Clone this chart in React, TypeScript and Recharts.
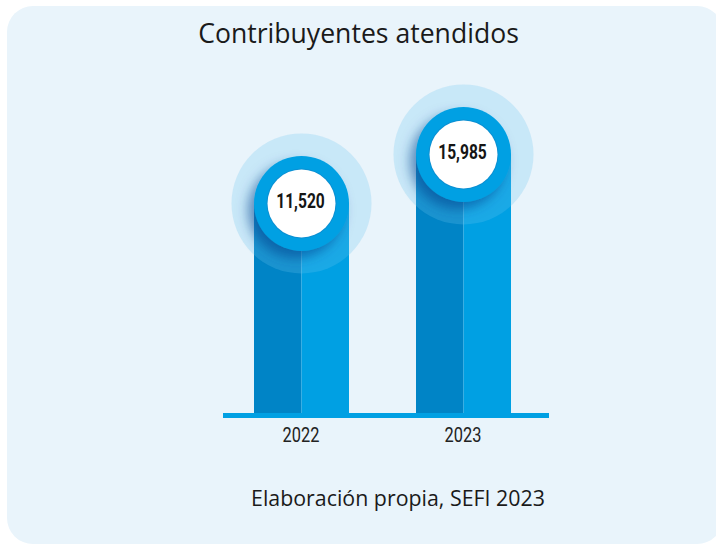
import { BarChart, Bar, XAxis, YAxis } from "recharts";

const years = ["2022", "2023"];
const attended = [11520, 15985];

const data = years.map((year, i) => ({ year, value: attended[i] }));

const BLUE = "#00a0e3";
const DARK = "#0084c6";

function PillarShape(props: any) {
  const { x, y, width, height, background, value, index } = props;
  const cx = x + width / 2;
  const bottom = background ? background.y + background.height : y + height;
  const r = width / 2;
  const id = `pillar-shadow-${index}`;
  return (
    <g>
      <defs>
        <filter id={id} x="-50%" y="-50%" width="200%" height="200%">
          <feDropShadow dx={-6} dy={7} stdDeviation={6} floodColor="#053f8c" floodOpacity={0.55} />
        </filter>
      </defs>
      <rect x={x} y={y} width={width / 2} height={bottom - y} fill={DARK} />
      <rect x={cx} y={y} width={width / 2} height={bottom - y} fill={BLUE} />
      <circle cx={cx} cy={y} r={70} fill="rgba(104,195,240,0.25)" />
      <circle cx={cx} cy={y} r={r} fill={BLUE} filter={`url(#${id})`} />
      <circle cx={cx} cy={y} r={35} fill="#0b8fd2" />
      <circle cx={cx} cy={y} r={34} fill="#ffffff" />
      <text
        transform={`translate(${cx - 1},${y + 5}) scale(0.78,1)`}
        textAnchor="middle"
        fontFamily="Roboto, sans-serif"
        fontWeight={700}
        fontSize={20}
        fill="#151515"
      >
        {Number(value).toLocaleString("en-US")}
      </text>
    </g>
  );
}

function YearTick(props: any) {
  const { x, y, payload } = props;
  return (
    <text
      transform={`translate(${x},${y + 18}) scale(0.82,1)`}
      textAnchor="middle"
      fontFamily="Roboto, sans-serif"
      fontSize={20}
      fill="#222222"
    >
      {payload.value}
    </text>
  );
}

export default function App() {
  return (
    <div style={{ position: "absolute", left: 0, top: 0, width: 716, height: 545, background: "#ffffff", overflow: "hidden" }}>
      <div
        style={{
          position: "absolute",
          left: 7,
          top: 6,
          width: 716,
          height: 538,
          borderRadius: 26,
          background: "#e9f4fb",
        }}
      />
      <svg width={716} height={545} style={{ position: "absolute", left: 0, top: 0 }}>
        <text
          transform="translate(358.5,43) scale(0.95,1)"
          textAnchor="middle"
          fontFamily="'Open Sans', sans-serif"
          fontSize={28}
          fill="#1a1a1a"
        >
          Contribuyentes atendidos
        </text>
        <text
          transform="translate(398,506) scale(0.95,1)"
          textAnchor="middle"
          fontFamily="'Open Sans', sans-serif"
          fontSize={22.5}
          fill="#1a1a1a"
        >
          Elaboración propia, SEFI 2023
        </text>
      </svg>
      <div style={{ position: "absolute", left: 0, top: 0 }}>
        <BarChart
          width={716}
          height={545}
          data={data}
          margin={{ top: 64.3, right: 167, bottom: 99.5, left: 223 }}
        >
          <YAxis hide domain={[-7800, 24200]} />
          <XAxis
            dataKey="year"
            axisLine={{ stroke: BLUE, strokeWidth: 5 }}
            tickLine={false}
            tick={<YearTick />}
            height={30}
            padding={{ left: -3, right: 5 }}
            interval={0}
          />
          <Bar dataKey="value" barSize={95} shape={<PillarShape />} isAnimationActive={false} />
        </BarChart>
      </div>
    </div>
  );
}
